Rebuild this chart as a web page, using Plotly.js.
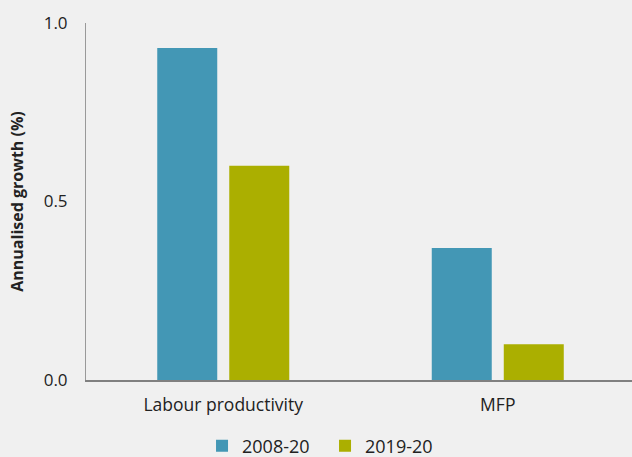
<!DOCTYPE html>
<html><head><meta charset="utf-8">
<script src="https://cdn.plot.ly/plotly-3.0.1.min.js"></script>
<style>html,body{margin:0;padding:0;background:#f0f0f0;}</style>
</head><body><div id="chart" style="width:632px;height:457px;"></div>
<script>
const categories = ["Labour productivity", "MFP"];
const series2008 = [0.93, 0.37];
const series2019 = [0.60, 0.10];
const seriesNames = ["2008-20", "2019-20"];
const yTickVals = [0, 0.5, 1.0];
const yTickText = ["0.0", "0.5", "1.0"];

const data = [
  {type: "bar", x: categories, y: series2008, name: seriesNames[0], marker: {color: "#4397b5"}},
  {type: "bar", x: categories, y: series2019, name: seriesNames[1], marker: {color: "#abaf00"}}
];
const layout = {
  width: 632, height: 457,
  margin: {l: 86, r: 0, t: 23, b: 77, autoexpand: false},
  paper_bgcolor: "#f0f0f0", plot_bgcolor: "#f0f0f0",
  font: {family: "'Open Sans', 'Noto Sans', sans-serif", size: 17, color: "#222"},
  barmode: "group", bargap: 0.4754, bargroupgap: 0.1667,
  showlegend: true,
  legend: {orientation: "h", xref: "paper", x: 0.2125, xanchor: "left", yref: "container", y: 0.024, yanchor: "middle", font: {size: 18}, itemwidth: 30, entrywidth: 78, entrywidthmode: "pixels", traceorder: "normal"},
  xaxis: {type: "category", range: [-0.5, 1.489], showline: true, linecolor: "#808080", linewidth: 2, ticks: "", showgrid: false, tickfont: {size: 17.5}, ticklabelstandoff: 8, fixedrange: true},
  yaxis: {range: [0, 1], tickvals: yTickVals, ticktext: yTickText, showline: true, linecolor: "#999", linewidth: 1, ticks: "", showgrid: false, zeroline: false, ticklabelstandoff: 14,
    tickfont: {size: 17},
    title: {text: "<b>Annualised growth (%)</b>", font: {size: 16}, standoff: 16}}
};
Plotly.newPlot("chart", data, layout, {displayModeBar: false, staticPlot: true});
</script></body></html>
